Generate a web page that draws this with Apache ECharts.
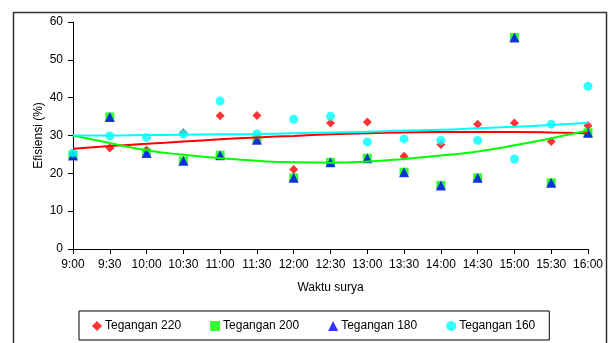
<!DOCTYPE html>
<html>
<head>
<meta charset="utf-8">
<script src="https://cdn.jsdelivr.net/npm/echarts@6/dist/echarts.min.js"></script>
<style>html,body{margin:0;padding:0;background:#fff;}#c{width:611px;height:343px;}</style>
</head>
<body>
<div id="c"></div>
<script>
const categories = ["9:00","9:30","10:00","10:30","11:00","11:30","12:00","12:30","13:00","13:30","14:00","14:30","15:00","15:30","16:00"];
const yTicks = [0,10,20,30,40,50,60];
const v220 = [25.0,26.7,26.2,30.7,35.2,35.3,21.0,33.3,33.6,24.5,27.6,33.0,33.3,28.4,32.6];
const v200 = [24.7,34.9,25.4,23.3,24.8,28.9,18.8,22.9,24.0,20.3,16.8,18.8,55.9,17.5,30.7];
const v180 = [24.7,34.9,25.4,23.3,24.8,28.9,18.8,22.9,24.0,20.3,16.8,18.8,55.9,17.5,30.7];
const v160 = [25.4,29.9,29.5,30.4,39.1,30.4,34.3,35.1,28.3,29.1,28.7,28.7,23.8,33.0,43.0];
const trend220 = [26.5,27.2,27.8,28.4,29.0,29.5,29.9,30.3,30.6,30.8,30.9,30.9,30.9,30.8,30.6];
const trend200 = [30.0,28.0,26.1,24.9,24.0,23.3,22.9,22.8,23.1,23.8,24.7,25.8,27.4,29.3,31.3];
const trend160 = [30.0,30.0,30.1,30.2,30.3,30.4,30.6,30.8,31.0,31.3,31.5,31.9,32.3,32.8,33.4];
const names = ["Tegangan 220","Tegangan 200","Tegangan 180","Tegangan 160"];

const FONT = "Liberation Sans, Arial, sans-serif";
const chart = echarts.init(document.getElementById('c'), null, {renderer:'canvas'});
const trendLine = (data, color) => ({
  type:'line', data, smooth:true, showSymbol:false, symbol:'none', silent:true, z:5,
  lineStyle:{color, width:2}, itemStyle:{color}
});
chart.setOption({
  animation:false,
  backgroundColor:'#fff',
  textStyle:{fontFamily:FONT},
  graphic:[{type:'rect', shape:{x:13.5,y:12.5,width:593,height:345}, style:{fill:'none',stroke:'#333',lineWidth:1.5}, z:0}],
  grid:{left:73,right:23,top:22,bottom:94,containLabel:false},
  legend:{
    data:names, left:79, top:311, orient:'horizontal',
    padding:[9,14,8,13], itemGap:29, itemWidth:10, itemHeight:10,
    borderColor:'#000', borderWidth:1,
    textStyle:{fontFamily:FONT,fontSize:12,color:'#000',padding:[0,0,0,-2]}
  },
  xAxis:{
    type:'category', data:categories, boundaryGap:false,
    name:'Waktu surya', nameLocation:'middle', nameGap:33, nameMoveOverlap:false,
    nameTextStyle:{fontFamily:FONT,fontSize:12,color:'#000'},
    axisLine:{lineStyle:{color:'#000',width:1}},
    axisTick:{show:true,length:5,alignWithLabel:true,lineStyle:{color:'#000'}},
    axisLabel:{fontFamily:FONT,fontSize:12,color:'#000',margin:10,interval:0},
    splitLine:{show:false}
  },
  yAxis:{
    type:'value', min:yTicks[0], max:yTicks[yTicks.length-1], interval:10,
    name:'Efisiensi (%)', nameLocation:'middle', nameGap:28, nameRotate:90, nameMoveOverlap:false,
    nameTextStyle:{fontFamily:FONT,fontSize:12,color:'#000'},
    axisLine:{show:true,lineStyle:{color:'#000',width:1}},
    axisTick:{show:true,length:5,lineStyle:{color:'#000'}},
    axisLabel:{fontFamily:FONT,fontSize:12,color:'#000',margin:10},
    splitLine:{show:false}
  },
  series:[
    {name:names[0], type:'scatter', data:v220, symbol:'diamond', symbolSize:9, itemStyle:{color:'#ff0000'}, z:2},
    {name:names[1], type:'scatter', data:v200, symbol:'rect', symbolSize:9, itemStyle:{color:'#00ff00'}, z:2},
    {name:names[2], type:'scatter', data:v180, symbol:'triangle', symbolSize:10, itemStyle:{color:'#0000ff'}, z:2},
    {name:names[3], type:'scatter', data:v160, symbol:'circle', symbolSize:9, itemStyle:{color:'#00ffff'}, z:2},
    trendLine(trend220,'#ff0000'),
    trendLine(trend200,'#00ff00'),
    trendLine(trend160,'#00ffff')
  ]
});
</script>
</body>
</html>
